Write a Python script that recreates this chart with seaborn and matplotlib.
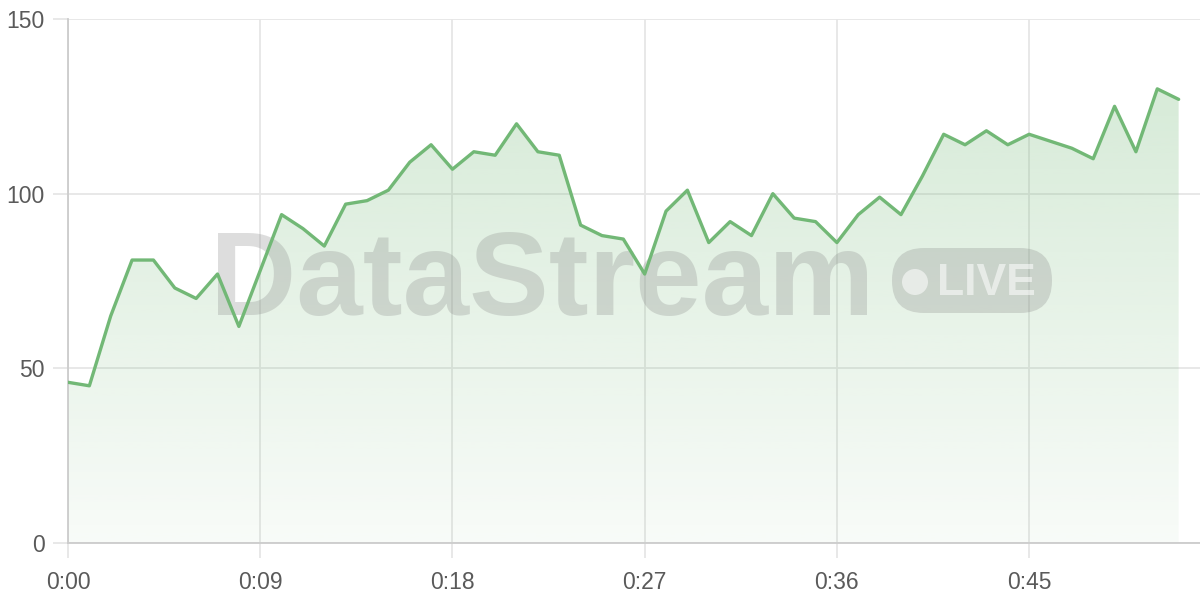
import numpy as np
import matplotlib.pyplot as plt
import seaborn as sns
from matplotlib.patches import FancyBboxPatch, Circle, Polygon
from matplotlib.transforms import IdentityTransform

# values, one point per time step
values = [46, 45, 65, 81, 81, 73, 70, 77, 62, 78,
          94, 90, 85, 97, 98, 101, 109, 114, 107, 112,
          111, 120, 112, 111, 91, 88, 87, 77, 95, 101,
          86, 92, 88, 100, 93, 92, 86, 94, 99, 94,
          105, 117, 114, 118, 114, 117, 115, 113, 110, 125,
          112, 130, 127]
x_ticks = [0, 9, 18, 27, 36, 45]
x_labels = ["0:00", "0:09", "0:18", "0:27", "0:36", "0:45"]
y_ticks = [0, 50, 100, 150]

line_color = "#72b876"
grid_color = "#e6e6e6"

sns.set_theme(style="whitegrid")
plt.rcParams['font.family'] = ['Liberation Sans', 'DejaVu Sans']

fig = plt.figure(figsize=(12, 6), dpi=100)
ax = fig.add_axes([68 / 1200, 57 / 600, 1132 / 1200, 524 / 600])

x = np.arange(len(values))

# gradient fill under the line
rgb = np.array(plt.matplotlib.colors.to_rgb(line_color))
t = np.linspace(0, 1, 256).reshape(-1, 1)
img = np.zeros((256, 1, 4))
img[..., :3] = rgb
img[..., 3] = (0.05 + 0.27 * t)
im = ax.imshow(img, extent=[x[0], x[-1], 0, 150], origin="lower",
               aspect="auto", zorder=1, interpolation="bilinear")
verts = [(x[0], 0)] + list(zip(x, values)) + [(x[-1], 0)]
clip = Polygon(verts, closed=True, facecolor="none", edgecolor="none",
               transform=ax.transData)
ax.add_patch(clip)
im.set_clip_path(clip)

sns.lineplot(x=x, y=values, color=line_color, linewidth=2.4, ax=ax, zorder=4)

ax.set_xlim(0, 53)
ax.set_ylim(0, 150)
ax.set_xticks(x_ticks)
ax.set_xticklabels(x_labels)
ax.set_yticks(y_ticks)

ax.grid(True, color=grid_color, linewidth=1.3)
ax.set_axisbelow(True)
for s in ["top", "right"]:
    ax.spines[s].set_visible(False)
for s in ["left", "bottom"]:
    ax.spines[s].set_color("#cccccc")
    ax.spines[s].set_linewidth(1.3)
ax.tick_params(bottom=True, left=True, length=11, width=1.3, color=grid_color,
               labelsize=16.5, labelcolor="#5a5a5a")
ax.tick_params(axis="x", pad=9)
ax.tick_params(axis="y", pad=6)

# watermark
px = IdentityTransform()
ax.text(210, 285, "DataStream", transform=px, fontsize=86, fontweight="bold",
        color="#888888", alpha=0.28, ha="left", va="baseline", zorder=3)
badge = FancyBboxPatch((892, 287), 160, 65, boxstyle="round,pad=0,rounding_size=32",
                       transform=px, facecolor="#888888", alpha=0.28,
                       edgecolor="none", zorder=3)
ax.add_patch(badge)
ax.add_patch(Circle((915, 318), 13, transform=px, facecolor="white",
                    alpha=0.55, edgecolor="none", zorder=3))
ax.text(937, 305, "LIVE", transform=px, fontsize=32, fontweight="bold",
        color="white", alpha=0.55, ha="left", va="baseline", zorder=3)

plt.savefig("out.png", dpi=100)
